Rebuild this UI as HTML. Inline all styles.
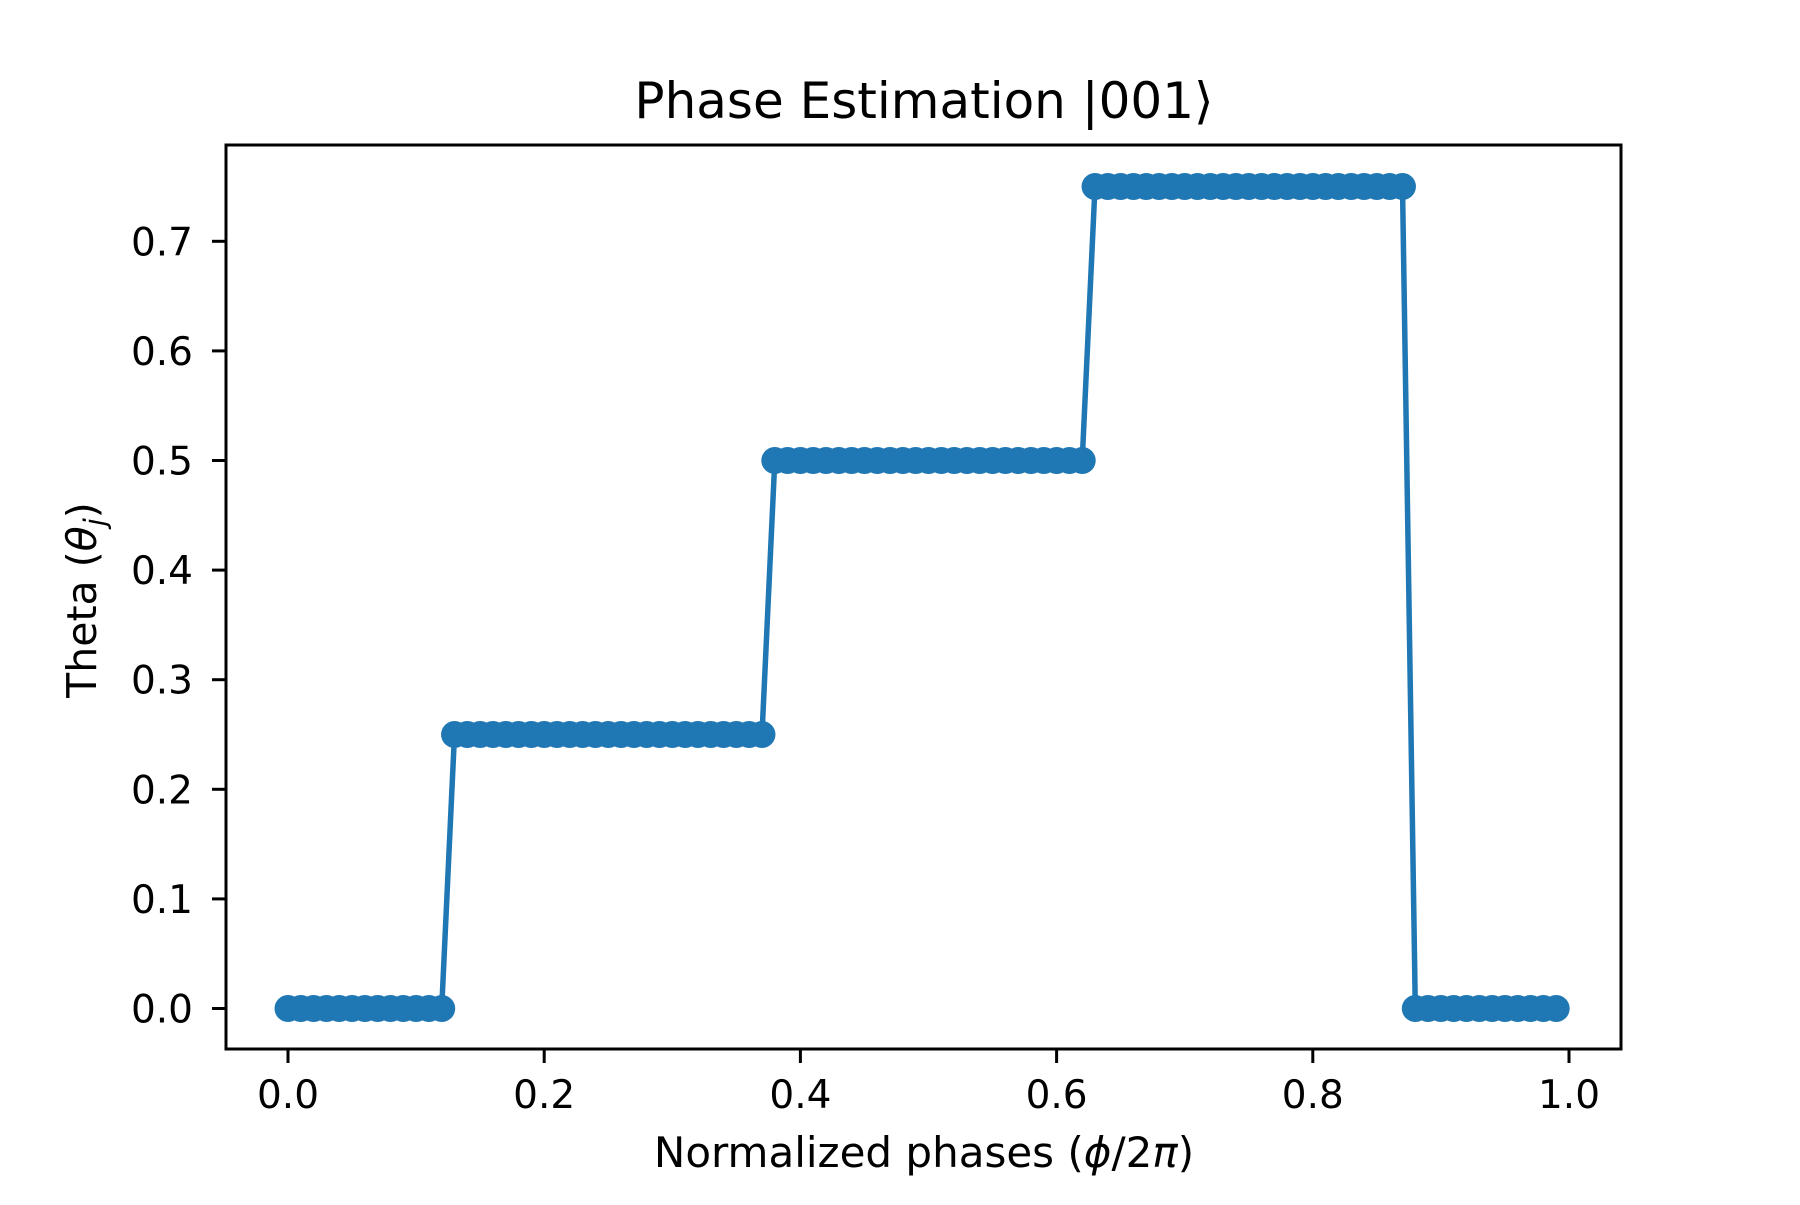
<!DOCTYPE html>
<html><head><meta charset="utf-8"><style>
html,body{margin:0;padding:0;background:#fff;}
svg text{font-family:"DejaVu Sans","Liberation Sans",sans-serif;fill:#000;}
</style></head><body>
<svg id="chart" width="1800" height="1200" viewBox="0 0 1800 1200" xmlns="http://www.w3.org/2000/svg">
<rect width="1800" height="1200" fill="#fff"/>
<text x="924" y="118" font-size="50" text-anchor="middle">Phase Estimation |001⟩</text>
<g id="xticks"></g>
<g id="yticks"></g>
<g id="series"></g>
<rect x="226" y="145" width="1395" height="904" fill="none" stroke="#000" stroke-width="3"/>
<text x="924" y="1167" font-size="42" text-anchor="middle">Normalized phases (<tspan font-style="italic">ϕ</tspan>/2<tspan font-style="italic">π</tspan>)</text>
<text transform="translate(96,600) rotate(-90)" font-size="41" text-anchor="middle">Theta (<tspan font-style="italic">θ</tspan><tspan font-style="italic" font-size="29" dy="9">j</tspan><tspan dy="-9">)</tspan></text>
</svg>
<script>
const phases = [0.00,0.01,0.02,0.03,0.04,0.05,0.06,0.07,0.08,0.09,0.10,0.11,0.12,0.13,0.14,0.15,0.16,0.17,0.18,0.19,0.20,0.21,0.22,0.23,0.24,0.25,0.26,0.27,0.28,0.29,0.30,0.31,0.32,0.33,0.34,0.35,0.36,0.37,0.38,0.39,0.40,0.41,0.42,0.43,0.44,0.45,0.46,0.47,0.48,0.49,0.50,0.51,0.52,0.53,0.54,0.55,0.56,0.57,0.58,0.59,0.60,0.61,0.62,0.63,0.64,0.65,0.66,0.67,0.68,0.69,0.70,0.71,0.72,0.73,0.74,0.75,0.76,0.77,0.78,0.79,0.80,0.81,0.82,0.83,0.84,0.85,0.86,0.87,0.88,0.89,0.90,0.91,0.92,0.93,0.94,0.95,0.96,0.97,0.98,0.99];
const thetas = [0,0,0,0,0,0,0,0,0,0,0,0,0,
0.25,0.25,0.25,0.25,0.25,0.25,0.25,0.25,0.25,0.25,0.25,0.25,0.25,0.25,0.25,0.25,0.25,0.25,0.25,0.25,0.25,0.25,0.25,0.25,0.25,
0.5,0.5,0.5,0.5,0.5,0.5,0.5,0.5,0.5,0.5,0.5,0.5,0.5,0.5,0.5,0.5,0.5,0.5,0.5,0.5,0.5,0.5,0.5,0.5,0.5,
0.75,0.75,0.75,0.75,0.75,0.75,0.75,0.75,0.75,0.75,0.75,0.75,0.75,0.75,0.75,0.75,0.75,0.75,0.75,0.75,0.75,0.75,0.75,0.75,0.75,
0,0,0,0,0,0,0,0,0,0,0,0];
const xTickValues = [0.0,0.2,0.4,0.6,0.8,1.0];
const xTickLabels = ["0.0","0.2","0.4","0.6","0.8","1.0"];
const yTickValues = [0.0,0.1,0.2,0.3,0.4,0.5,0.6,0.7];
const yTickLabels = ["0.0","0.1","0.2","0.3","0.4","0.5","0.6","0.7"];

const NS = "http://www.w3.org/2000/svg";
function xScale(v){ return 288 + 1281*v; }
function yScale(v){ return 1008.5 - 1096*v; }
function mk(tag, attrs){ const e=document.createElementNS(NS,tag); for(const k in attrs) e.setAttribute(k,attrs[k]); return e; }

const xg = document.getElementById('xticks');
xTickValues.forEach((v,i)=>{
  const x = xScale(v);
  const t = mk('line',{x1:x,x2:x,y1:1049,y2:1063,stroke:'#000','stroke-width':3});
  
  
  xg.appendChild(t);
  const l = mk('text',{x:x,y:1108,'font-size':39,'text-anchor':'middle'});
  
  
  l.textContent = xTickLabels[i];
  xg.appendChild(l);
});
const yg = document.getElementById('yticks');
yTickValues.forEach((v,i)=>{
  const y = yScale(v);
  const t = mk('line',{x1:212,x2:226,y1:y,y2:y,stroke:'#000','stroke-width':3});
  
  
  yg.appendChild(t);
  const l = mk('text',{x:193,y:y+14,'font-size':39,'text-anchor':'end'});
  
  
  l.textContent = yTickLabels[i];
  yg.appendChild(l);
});
const sg = document.getElementById('series');
const pts = phases.map((p,i)=>xScale(p).toFixed(1)+','+yScale(thetas[i]).toFixed(1)).join(' ');
const line = mk('polyline',{points:pts,fill:'none',stroke:'#1f77b4','stroke-width':5.5,'stroke-linejoin':'round'});


sg.appendChild(line);
phases.forEach((p,i)=>{
  const c = mk('circle',{cx:xScale(p),cy:yScale(thetas[i]),r:13.5,fill:'#1f77b4'});
  
  
  sg.appendChild(c);
});
</script>
</body></html>
